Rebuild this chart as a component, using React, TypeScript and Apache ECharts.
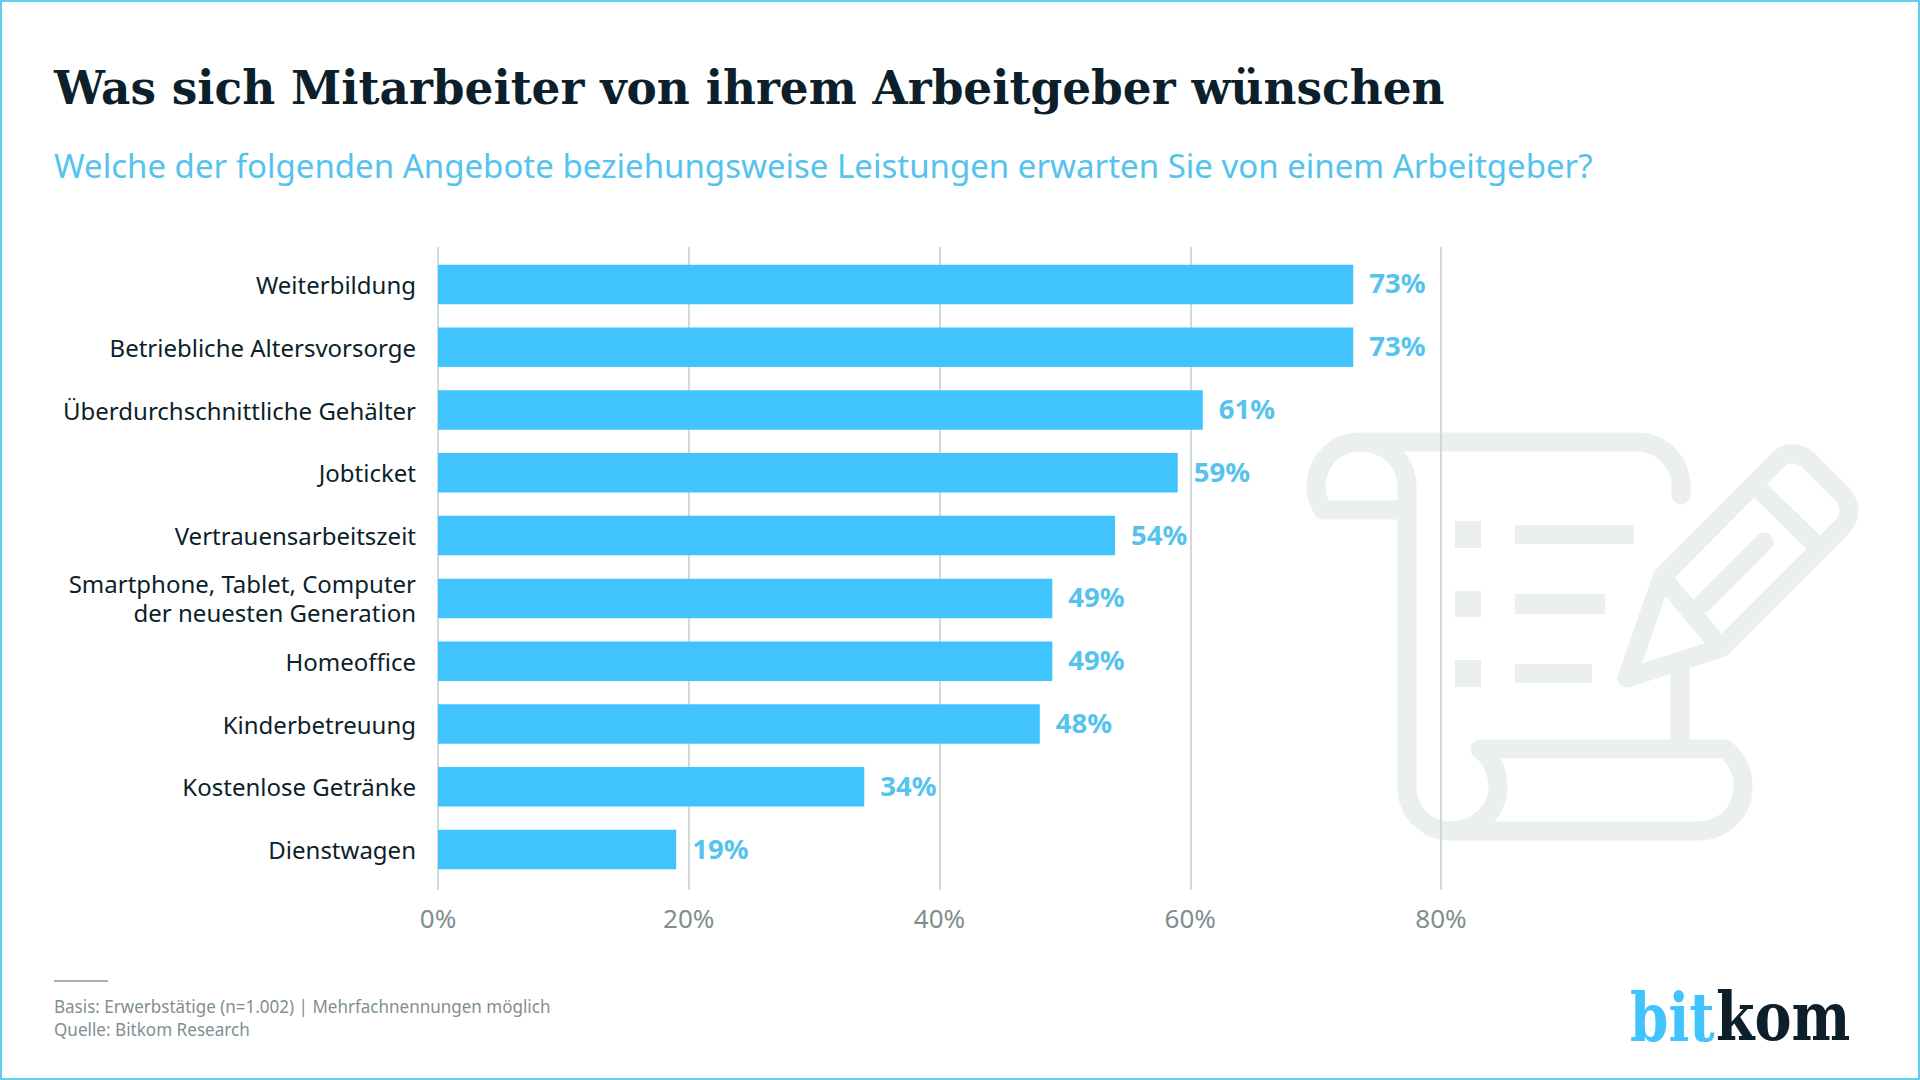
import React, { useEffect, useRef } from "react";
import * as echarts from "echarts";

const categories = [
  "Weiterbildung",
  "Betriebliche Altersvorsorge",
  "Überdurchschnittliche Gehälter",
  "Jobticket",
  "Vertrauensarbeitszeit",
  "Smartphone, Tablet, Computer\nder neuesten Generation",
  "Homeoffice",
  "Kinderbetreuung",
  "Kostenlose Getränke",
  "Dienstwagen",
];
const values = [73, 73, 61, 59, 54, 49, 49, 48, 34, 19];
const titleText = "Was sich Mitarbeiter von ihrem Arbeitgeber wünschen";
const subtitleText = "Welche der folgenden Angebote beziehungsweise Leistungen erwarten Sie von einem Arbeitgeber?";
const footerLines = ["Basis: Erwerbstätige (n=1.002) | Mehrfachnennungen möglich", "Quelle: Bitkom Research"];

const BLUE = "#41c4fd";
const SUB_BLUE = "#55c3ee";
const DARK = "#0c1f2b";
const GREY = "#7f8f90";
const ICON = "#ebf0ef";
const SANS = "'Noto Sans', sans-serif";
const SLAB = "'DejaVu Serif', serif";

const iconPath =
  "M1407 510 L1323 510 C1318 502 1316 495 1316 487 C1316 462 1335 442 1360 442 L1637 442 C1662 442 1681 462 1681 487 L1681 495 " +
  "M1360 442 C1387 442 1407 462 1407 487 L1407 787 C1407 812 1426 831 1451 831 L1698 831 C1723 831 1743 812 1743 787 C1743 771 1737 758 1725 749 L1480 749 " +
  "C1491 758 1498 771 1498 787 C1498 812 1476 831 1451 831 " +
  "M1680 670 L1680 749 " +
  "M1627 678 L1662 577 L1780 458 Q1792 448 1808 460 L1843 495 Q1856 513 1841 528 L1721 648 L1627 678 " +
  "M1662 577 L1721 648 M1762 492 L1813 542 M1764 542 L1702 604";
echarts.graphic.registerShape("scrollIcon", echarts.graphic.extendPath(iconPath, {}) as any);

const iconBlocks = [
  [1455, 521, 26, 27], [1515, 525, 119, 19],
  [1455, 591, 26, 26], [1515, 594, 90, 20],
  [1455, 660, 26, 27], [1515, 664, 77, 19],
];

export default function App() {
  const ref = useRef<HTMLDivElement>(null);
  useEffect(() => {
    document.body.style.margin = "0";
    document.body.style.background = "#fff";
    const chart = echarts.init(ref.current!, undefined, { renderer: "svg" });
    chart.setOption({
      animation: false,
      backgroundColor: "#ffffff",
      grid: [
        { left: 438, top: 253, width: 1003, height: 628 },
        { left: 438, top: 247, width: 1003, height: 643 },
      ],
      xAxis: [
        { type: "value", gridIndex: 0, min: 0, max: 80, interval: 20, show: false },
        {
          type: "value", gridIndex: 1, min: 0, max: 80, interval: 20,
          axisLine: { show: false }, axisTick: { show: false },
          splitLine: { show: true, lineStyle: { color: "#c3cfcf", width: 1.5 } },
          axisLabel: { formatter: "{value}%", color: GREY, fontFamily: SANS, fontSize: 26, margin: 15 },
        },
      ],
      yAxis: [
        {
          type: "category", gridIndex: 0, data: categories, inverse: true,
          axisLine: { show: false }, axisTick: { show: false }, splitLine: { show: false },
          axisLabel: { color: DARK, fontFamily: SANS, fontSize: 24, lineHeight: 29, margin: 22, align: "right" },
        },
        { type: "value", gridIndex: 1, min: 0, max: 1, show: false },
      ],
      series: [
        {
          type: "bar", xAxisIndex: 0, yAxisIndex: 0, data: values, barWidth: 39.5,
          itemStyle: { color: BLUE }, z: 3,
          label: {
            show: true, position: "right", distance: 16, offset: [0, -1.5], formatter: "{c}%",
            color: SUB_BLUE, fontFamily: SANS, fontWeight: "bold", fontSize: 27.5,
          },
        },
      ],
      graphic: [
        { type: "rect", z: -2, shape: { x: 1, y: 1, width: 1918, height: 1078 }, style: { fill: "#fff", stroke: "#5fd0ea", lineWidth: 2 } },
        {
          type: "scrollIcon", z: -1, x: 0, y: 0,
          style: { fill: "none", stroke: ICON, lineWidth: 19, lineCap: "round", lineJoin: "round" },
        },
        ...iconBlocks.map(([x, y, width, height]) => ({ type: "rect", z: -1, shape: { x, y, width, height }, style: { fill: ICON } })),
        { type: "text", x: 54, y: 88, scaleX: 0.987, style: { text: titleText, fill: DARK, font: `bold 46px ${SLAB}`, textVerticalAlign: "middle" } },
        { type: "text", x: 54, y: 165, style: { text: subtitleText, fill: SUB_BLUE, font: `33px ${SANS}`, textVerticalAlign: "middle" } },
        { type: "rect", shape: { x: 54, y: 980, width: 54, height: 2 }, style: { fill: "#a8b3b4" } },
        { type: "text", x: 54, y: 1006, scaleX: 0.946, style: { text: footerLines[0], fill: GREY, font: `18px ${SANS}`, textVerticalAlign: "middle" } },
        { type: "text", x: 54, y: 1029, scaleX: 0.95, style: { text: footerLines[1], fill: GREY, font: `18px ${SANS}`, textVerticalAlign: "middle" } },
        { type: "text", x: 1630, y: 1050, scaleX: 0.82, style: { text: "bit", fill: BLUE, font: `bold 67px ${SLAB}`, textVerticalAlign: "bottom" } },
        { type: "text", x: 1716, y: 1050, scaleX: 0.83, style: { text: "kom", fill: DARK, font: `bold 67px ${SLAB}`, textVerticalAlign: "bottom" } },
      ],
    });
    return () => chart.dispose();
  }, []);
  return <div ref={ref} style={{ position: "fixed", left: 0, top: 0, width: 1920, height: 1080 }} />;
}
